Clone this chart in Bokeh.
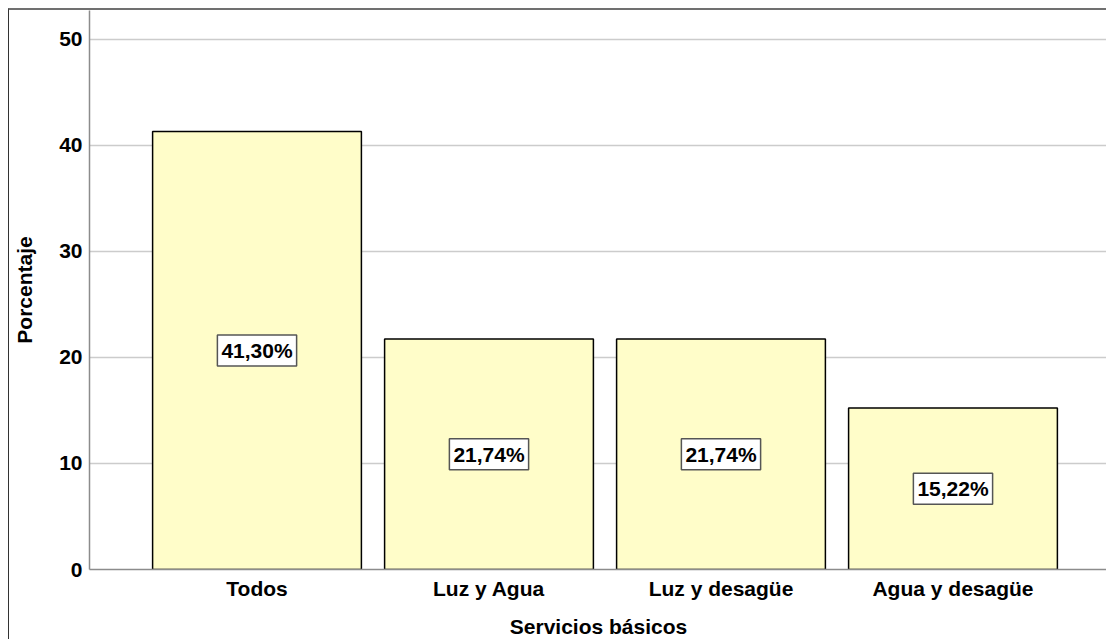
from bokeh.plotting import figure
from bokeh.models import Range1d, FixedTicker, Label
from bokeh.embed import file_html
from bokeh.resources import INLINE

categories = ["Todos", "Luz y Agua", "Luz y desagüe", "Agua y desagüe"]
percentages = [41.30, 21.74, 21.74, 15.22]
y_ticks = [0, 10, 20, 30, 40, 50]

FONT = "Liberation Sans"
xs = list(range(1, len(categories) + 1))

p = figure(width=1098, height=631, output_backend="svg", toolbar_location=None,
           x_range=Range1d(0.278, 4.666), y_range=Range1d(0, 52.7),
           min_border_left=80, min_border_top=0, min_border_right=0, min_border_bottom=72)
p.styles = {"border-left": "1px solid #333333", "border-top": "2px solid #707070",
            "margin-left": "8px", "margin-top": "8px"}
p.outline_line_color = None
p.background_fill_color = "white"
p.border_fill_color = "white"

p.vbar(x=xs, top=percentages, width=0.9, fill_color="#FFFDC9",
       line_color="black", line_width=1.5)

for x, v in zip(xs, percentages):
    txt = f"{v:.2f}".replace(".", ",") + "%"
    p.add_layout(Label(x=x, y=v / 2, text=txt, text_align="center",
                       text_baseline="middle", text_font=FONT,
                       text_font_size="21px", text_font_style="bold",
                       text_color="black", background_fill_color="white",
                       border_line_color="#555555", border_line_width=1.5,
                       padding=4))

p.xaxis.ticker = FixedTicker(ticks=xs)
p.xaxis.major_label_overrides = {x: c for x, c in zip(xs, categories)}
p.yaxis.ticker = FixedTicker(ticks=y_ticks)

for ax in (p.xaxis, p.yaxis):
    ax.major_tick_in = 0
    ax.major_tick_out = 0
    ax.minor_tick_in = 0
    ax.minor_tick_out = 0
    ax.axis_line_color = "#8c8c8c"
    ax.axis_line_width = 1.5
    ax.major_label_text_font = FONT
    ax.major_label_text_font_size = "21px"
    ax.major_label_text_font_style = "bold"
    ax.major_label_text_color = "black"
    ax.axis_label_text_font = FONT
    ax.axis_label_text_font_size = "21px"
    ax.axis_label_text_font_style = "bold"
    ax.axis_label_text_color = "black"

p.xaxis.axis_label = "Servicios básicos"
p.yaxis.axis_label = "Porcentaje"
p.xaxis.major_label_standoff = 7
p.xaxis.axis_label_standoff = 12
p.yaxis.major_label_standoff = 7
p.yaxis.axis_label_standoff = 20

p.xgrid.grid_line_color = None
p.ygrid.grid_line_color = "#cccccc"
p.ygrid.grid_line_width = 1.5

open("out.html", "w").write(file_html(p, INLINE))
